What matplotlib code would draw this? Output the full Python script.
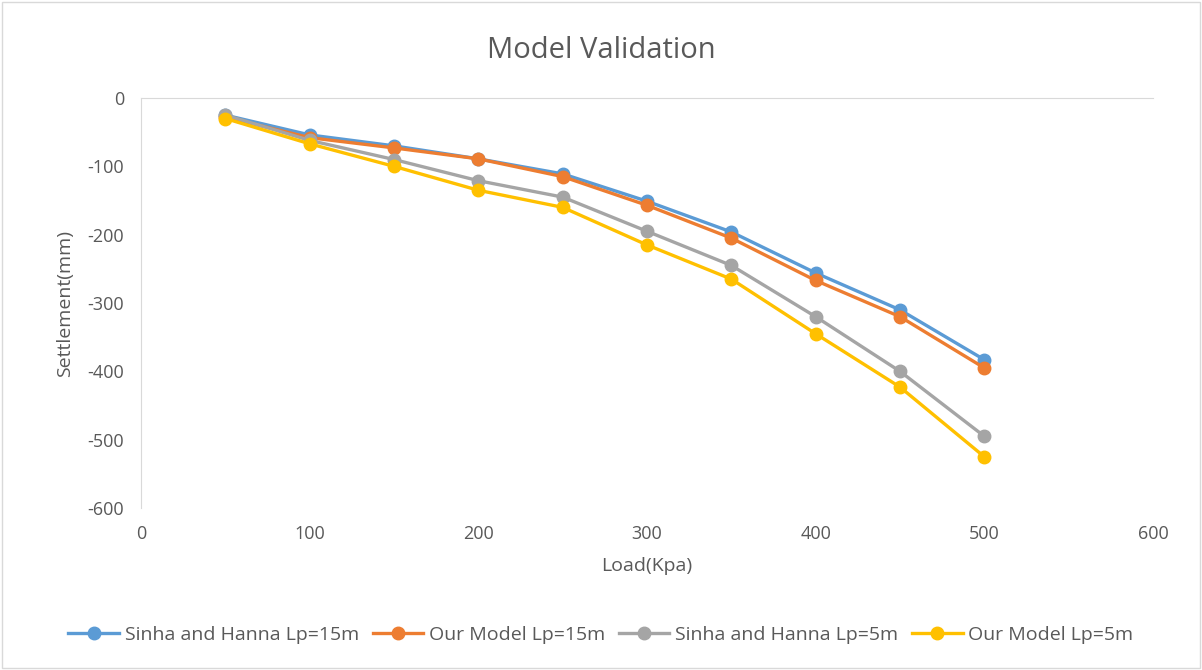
import matplotlib.pyplot as plt
from matplotlib.patches import Rectangle

load = [50, 100, 150, 200, 250, 300, 350, 400, 450, 500]
sinha_15 = [-25, -54, -70, -89, -111, -151, -196, -256, -310, -383]
model_15 = [-28, -58, -73, -89, -115, -157, -205, -267, -320, -395]
sinha_5 = [-25, -62, -90, -121, -145, -195, -245, -320, -400, -495]
model_5 = [-30, -67, -100, -135, -160, -215, -265, -345, -423, -525]

series = [
    ('Sinha and Hanna Lp=15m', sinha_15, '#5B9BD5'),
    ('Our Model Lp=15m', model_15, '#ED7D31'),
    ('Sinha and Hanna Lp=5m', sinha_5, '#A5A5A5'),
    ('Our Model Lp=5m', model_5, '#FFC000'),
]

plt.rcParams['font.family'] = ['Open Sans', 'DejaVu Sans']
plt.rcParams['axes.unicode_minus'] = False
txt = '#595959'

fig = plt.figure(figsize=(12.02, 6.70), dpi=100)
ax = fig.add_axes([0.1173, 0.2418, 0.8419, 0.6119])

for label, vals, color in series:
    ax.plot(load, vals, color=color, lw=2.4, marker='o', markersize=9, label=label)

ax.set_xlim(0, 600)
ax.set_ylim(-600, 0)
ax.set_xticks(range(0, 601, 100))
ax.set_yticks(range(-600, 1, 100))
ax.tick_params(length=0, labelsize=13, labelcolor=txt, pad=12)

for s in ['right', 'bottom']:
    ax.spines[s].set_visible(False)
ax.spines['left'].set_color('#D9D9D9')
ax.spines['top'].set_color('#D9D9D9')

ax.set_xlabel('Load(Kpa)', fontsize=14, color=txt, labelpad=10)
ax.set_ylabel('Settlement(mm)', fontsize=14, color=txt, labelpad=10)
fig.text(0.5, 0.925, 'Model Validation', ha='center', va='center', fontsize=21, color=txt)

fig.legend(loc='center', bbox_to_anchor=(0.5, 0.052), ncol=4, frameon=False,
           fontsize=14, labelcolor=txt, handlelength=2.6, handletextpad=0.3,
           columnspacing=0.7)

fig.patches.append(Rectangle((0.002, 0.003), 0.996, 0.994, transform=fig.transFigure,
                             fill=False, edgecolor='#D9D9D9', lw=1))

fig.savefig('out.png', dpi=100)
